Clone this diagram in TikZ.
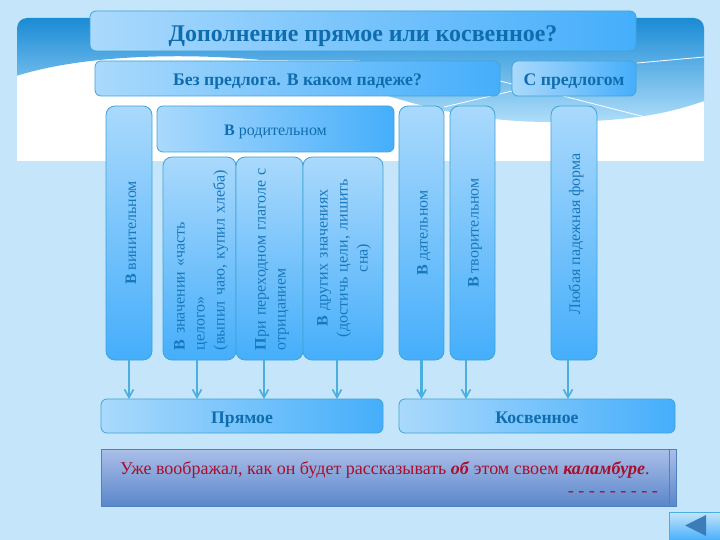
\documentclass[tikz,border=0pt]{standalone}
\usepackage{fontspec}
\setmainfont{Liberation Serif}
\usetikzlibrary{arrows.meta,calc}
\definecolor{bgc}{HTML}{C5E5FA}
\definecolor{lightb}{HTML}{AAD9FC}
\definecolor{deepb}{HTML}{45AEFB}
\definecolor{edgeb}{HTML}{3FA5D6}
\definecolor{headtxt}{HTML}{0F6DAE}
\definecolor{bodytxt}{HTML}{1878BC}
\definecolor{arrowb}{HTML}{4AAEE0}
\definecolor{wine}{HTML}{A80F2C}
\definecolor{notetop}{HTML}{ABBFE9}
\definecolor{notebot}{HTML}{5A86CA}
\definecolor{noteedge}{HTML}{4F81BD}
\definecolor{wavetop}{HTML}{1A8BD5}
\definecolor{wavebot}{HTML}{AFDDFA}
\definecolor{tricol}{HTML}{3C7DB9}
\tikzset{
  x=1pt,y=-1pt,
  basebox/.style={draw=edgeb,line width=0.8pt,rounded corners=6pt,inner sep=0pt,outer sep=0pt},
  hbox/.style={basebox,left color=lightb,right color=deepb,font=\bfseries\fontsize{17.7}{20}\selectfont,text=headtxt,text depth=0pt,text height=15pt},
  vbox/.style={basebox,top color=lightb,bottom color=deepb,rounded corners=9pt},
  vlabel/.style={rotate=90,align=left,text=bodytxt,font=\fontsize{16}{20}\selectfont,inner sep=0pt},
  linkarrow/.style={draw=arrowb,line width=2.2pt,-{Straight Barb[length=8pt,width=9pt,line width=1.6pt]}},
  wavel/.style={draw=white,line width=0.8pt}
}
\begin{document}
\begin{tikzpicture}
\useasboundingbox (0,0) rectangle (720,540);
\fill[bgc] (0,0) rectangle (720,540);
% background panel
\begin{scope}
  \clip[rounded corners=10pt] (17,18) -- (704,18) -- (704,170) -- (17,170) -- cycle;
  \fill[white] (16,18) rectangle (704,161);
  \shade[top color=wavetop,bottom color=wavebot]
    (16,18) -- (704,18) -- (704,101)
    .. controls (670,113) and (630,122) .. (550,122)
    .. controls (490,122) and (440,112) .. (385,95)
    .. controls (340,80) and (310,64) .. (250,59)
    .. controls (170,53) and (80,56) .. (16,76) -- cycle;
\end{scope}
\draw[wavel] (637,63) -- (704,57);
\draw[wavel] (500,81) -- (512,84);
\draw[wavel] (512,91) -- (444,107);
\draw[wavel] (563,96) -- (645,117);
\draw[wavel] (200,58) .. controls (260,62) and (300,60) .. (360,61);
% header boxes
\node[hbox,minimum width=546pt,minimum height=40pt,font=\bfseries\fontsize{23.9}{26}\selectfont,text height=21.5pt] (title) at (363,31) {Дополнение прямое или косвенное?};
\node[hbox,minimum width=405pt,minimum height=35pt] (without) at (297.5,78.5) {Без предлога. В каком падеже?};
\node[hbox,minimum width=124pt,minimum height=35pt] (withp) at (574,78.5) {С предлогом};
\node[hbox,minimum width=237pt,minimum height=46pt,font=\fontsize{16}{18}\selectfont,text height=14pt] (gen) at (275.5,129) {\textbf{В} родительном};
% columns
\node[vbox,minimum width=46pt,minimum height=254pt] (acc) at (129,233) {};
\node[vlabel] at (131,233) {\textbf{В} винительном};
\node[vbox,minimum width=73pt,minimum height=203pt] (part) at (199.5,258.5) {};
\node[vlabel,text width=200pt] at (201,250) {\textbf{В} значении «часть\\целого»\\(выпил чаю, купил хлеба)};
\node[vbox,minimum width=67pt,minimum height=203pt] (neg) at (269.5,258.5) {};
\node[vlabel,text width=200pt] at (272,250) {\textbf{П}ри переходном глаголе с\\отрицанием};
\node[vbox,minimum width=80pt,minimum height=203pt] (other) at (343,258.5) {};
\node[vlabel,align=center,text width=200pt] at (344,258) {\textbf{В} других значениях\\(достичь цели, лишить\\сна)};
\node[vbox,minimum width=45pt,minimum height=254pt] (dat) at (421.5,233) {};
\node[vlabel] at (424,233) {\textbf{В} дательном};
\node[vbox,minimum width=45pt,minimum height=254pt] (ins) at (472.5,233) {};
\node[vlabel] at (475,233) {\textbf{В} творительном};
\node[vbox,minimum width=46pt,minimum height=254pt] (anyf) at (574,233) {};
\node[vlabel] at (576,234) {Любая падежная форма};
% result boxes
\node[hbox,minimum width=282pt,minimum height=34pt] (direct) at (242,416) {Прямое};
\node[hbox,minimum width=276pt,minimum height=34pt] (indirect) at (537,416) {Косвенное};
% connectors
\draw[linkarrow] ([xshift=0pt]acc.south) -- ([xshift=0pt]acc.south |- direct.north);
\draw[linkarrow] ([xshift=-2.5pt]part.south) -- ([xshift=-2.5pt]part.south |- direct.north);
\draw[linkarrow] ([xshift=-5.5pt]neg.south) -- ([xshift=-5.5pt]neg.south |- direct.north);
\draw[linkarrow] ([xshift=-6pt]other.south) -- ([xshift=-6pt]other.south |- direct.north);
\draw[linkarrow] ([xshift=0pt]dat.south) -- ([xshift=0pt]dat.south |- indirect.north);
\draw[linkarrow] ([xshift=-6.5pt]ins.south) -- ([xshift=-6.5pt]ins.south |- indirect.north);
\draw[linkarrow] ([xshift=-6pt]anyf.south) -- ([xshift=-6pt]anyf.south |- indirect.north);
% note
\node[draw=noteedge,line width=1pt,top color=notetop,bottom color=notebot,minimum width=575pt,minimum height=57pt,inner sep=0pt] (note) at (388.5,477.5) {};
\draw[noteedge,line width=0.8pt] ([xshift=-7pt]note.north east) -- ([xshift=-7pt]note.south east);
\node[anchor=base west,inner sep=0pt,text=wine,font=\fontsize{18}{20}\selectfont] (notetext) at (120,474) {Уже воображал, как он будет рассказывать \textbf{\textit{об}} этом своем \textbf{\textit{каламбуре}}.};
\node[anchor=base east,inner sep=0pt,text=wine,font=\fontsize{18}{20}\selectfont] (dashes) at (658,496) {- - - - - - - - -};
% back button
\shade[draw=arrowb,line width=0.8pt,top color=bgc,bottom color=deepb] (669,512) rectangle (721,541);
\fill[tricol] (685,525.5) -- (706,515) -- (706,536) -- cycle;
\end{tikzpicture}
\end{document}
